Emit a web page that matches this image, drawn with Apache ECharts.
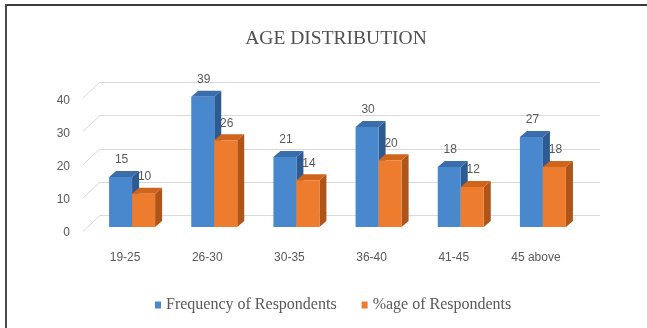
<!DOCTYPE html>
<html>
<head>
<meta charset="utf-8">
<script src="https://cdn.jsdelivr.net/npm/echarts@6/dist/echarts.min.js"></script>
<style>
html,body{margin:0;padding:0;background:#fff;}
#c{width:647px;height:328px;}
</style>
</head>
<body>
<div id="c"></div>
<script>
var categories = ['19-25', '26-30', '30-35', '36-40', '41-45', '45 above'];
var frequency = [15, 39, 21, 30, 18, 27];
var percentage = [10, 26, 14, 20, 12, 18];
var yTicks = [0, 10, 20, 30, 40];
var seriesNames = ['Frequency of Respondents', '%age of Respondents'];

var blue = { front: '#4a88cd', top: '#3a6dab', side: '#2d5a91' };
var orange = { front: '#ee7c2f', top: '#cf641c', side: '#b05418' };
var labelFont = 'Liberation Sans, Arial, sans-serif';
var serifFont = 'Liberation Serif, Times New Roman, serif';

function bar3D(side, colors) {
  return function (params, api) {
    var cat = api.value(0), val = api.value(1);
    var base = api.coord([cat, 0]);
    var top = api.coord([cat, val]);
    var band = api.size([1, 0])[0];
    var w = band * 0.28;
    var x0 = base[0] + (side === 0 ? -w : 0);
    var x1 = x0 + w;
    var yb = base[1], yt = top[1];
    var dx = 7, dy = -6;
    return {
      type: 'group',
      children: [
        { type: 'polygon', shape: { points: [[x1, yt], [x1, yb], [x1 + dx, yb + dy], [x1 + dx, yt + dy]] }, style: { fill: colors.side } },
        { type: 'polygon', shape: { points: [[x0, yt], [x1, yt], [x1 + dx, yt + dy], [x0 + dx, yt + dy]] }, style: { fill: colors.top } },
        { type: 'rect', shape: { x: x0, y: yt, width: w, height: yb - yt }, style: { fill: colors.front } },
        { type: 'text', x: (x0 + x1) / 2 + 1, y: yt - 17, style: { text: String(val), fill: '#595959', font: '12px ' + labelFont, align: 'center', verticalAlign: 'middle' } }
      ]
    };
  };
}

function diag(params, api) {
  var p = api.coord([0, api.value(1)]);
  return { type: 'line', shape: { x1: p[0], y1: p[1], x2: p[0] - 17, y2: p[1] + 16 }, style: { stroke: '#d9d9d9', lineWidth: 1 } };
}

var chart = echarts.init(document.getElementById('c'), null, { renderer: 'canvas' });
chart.setOption({
  animation: false,
  backgroundColor: '#ffffff',
  title: {
    text: 'AGE DISTRIBUTION', left: 331, top: 24, textAlign: 'center',
    textStyle: { fontFamily: serifFont, fontSize: 19.5, fontWeight: 'normal', color: '#505050' }
  },
  legend: {
    left: 150, top: 292, itemWidth: 6, itemHeight: 7, itemGap: 25, icon: 'rect',
    data: seriesNames,
    textStyle: { fontFamily: serifFont, fontSize: 16, color: '#595959' }
  },
  graphic: [
    { type: 'line', shape: { x1: 6, y1: 5, x2: 647, y2: 5 }, style: { stroke: '#3a3a3a', lineWidth: 2 } },
    { type: 'line', shape: { x1: 6, y1: 4, x2: 6, y2: 328 }, style: { stroke: '#4a4a4a', lineWidth: 2 } }
  ],
  grid: [
    { left: 100, right: 47, top: 82, height: 133.5 },
    { left: 91, width: 493, top: 93.5, height: 133.5 },
    { left: 74, width: 10, top: 101, height: 132 }
  ],
  xAxis: [
    { gridIndex: 0, type: 'value', min: 0, max: 1, show: false },
    { gridIndex: 1, type: 'category', data: categories, axisLine: { show: false }, axisTick: { show: false },
      axisLabel: { margin: 25, padding: [0, 14, 0, 0], color: '#595959', fontFamily: labelFont, fontSize: 12 } },
    { gridIndex: 2, type: 'value', min: 0, max: 1, show: false }
  ],
  yAxis: [
    { gridIndex: 0, type: 'value', min: 0, max: 40, interval: 10, axisLabel: { show: false }, axisLine: { show: false }, axisTick: { show: false },
      splitLine: { lineStyle: { color: '#d9d9d9', width: 1 } } },
    { gridIndex: 1, type: 'value', min: 0, max: 40, interval: 10, show: false, splitLine: { show: false } },
    { gridIndex: 2, type: 'value', min: 0, max: 40, interval: 10, axisLine: { show: false }, axisTick: { show: false }, splitLine: { show: false },
      axisLabel: { margin: 4, color: '#595959', fontFamily: labelFont, fontSize: 12 } }
  ],
  series: [
    { type: 'custom', name: 'diag', xAxisIndex: 0, yAxisIndex: 0, renderItem: diag,
      data: yTicks.map(function (v) { return [0, v]; }), silent: true },
    { type: 'custom', name: seriesNames[0], xAxisIndex: 1, yAxisIndex: 1, renderItem: bar3D(0, blue),
      itemStyle: { color: blue.front },
      data: frequency.map(function (v, i) { return [i, v]; }) },
    { type: 'custom', name: seriesNames[1], xAxisIndex: 1, yAxisIndex: 1, renderItem: bar3D(1, orange),
      itemStyle: { color: orange.front },
      data: percentage.map(function (v, i) { return [i, v]; }) }
  ]
});
</script>
</body>
</html>
